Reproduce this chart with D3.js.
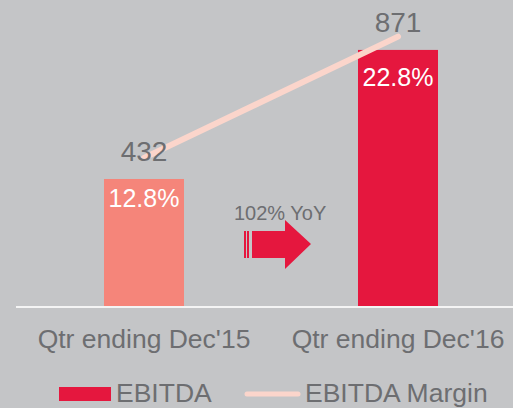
<!DOCTYPE html>
<html>
<head>
<meta charset="utf-8">
<script src="https://cdn.jsdelivr.net/npm/d3@7"></script>
<style>
  html, body { margin: 0; padding: 0; background: #c4c5c7; }
  svg { display: block; font-family: "Liberation Sans", Arial, sans-serif; }
</style>
</head>
<body>
<div id="chart"></div>
<script>
// chart data
var categories = ["Qtr ending Dec'15", "Qtr ending Dec'16"];
var ebitda = [432, 871];
var margin = [12.8, 22.8];
var barColors = ["#f5857a", "#e5173e"];
var yoyLabel = "102% YoY";
var legendLabels = ["EBITDA", "EBITDA Margin"];

var width = 513, height = 408;
var baseY = 306;
var textGray = "#6d6e71";

var svg = d3.select("#chart").append("svg")
  .attr("width", width).attr("height", height);

var x = d3.scaleBand().domain(categories).range([17, 525])
  .paddingInner(0.685).paddingOuter(0.3425);
var y = d3.scaleLinear().domain([0, 1000]).range([baseY, 12]);
var y2 = d3.scaleLinear().domain([0, 25]).range([313, 10]);

// bars
svg.selectAll(".bar").data(ebitda).enter().append("rect")
  .attr("class", "bar")
  .attr("x", function(d, i) { return x(categories[i]); })
  .attr("y", function(d) { return y(d); })
  .attr("width", x.bandwidth())
  .attr("height", function(d) { return baseY - y(d); })
  .style("fill", function(d, i) { return barColors[i]; });

// x axis
var xAxis = svg.append("g").attr("transform", "translate(0," + (baseY + 1) + ")")
  .call(d3.axisBottom(x).tickSize(0).tickPadding(0));
xAxis.select(".domain").remove();
xAxis.append("line").attr("x1", 16).attr("x2", width).attr("y1", 0).attr("y2", 0)
  .style("stroke", "#f4f4f4").style("stroke-width", 2);
xAxis.selectAll("text")
  .attr("dy", null).attr("y", 41)
  .style("font-size", "26.5px").style("fill", textGray)
  .style("font-family", "'Liberation Sans', Arial, sans-serif");

// margin line
var line = d3.line()
  .x(function(d, i) { return x(categories[i]) + x.bandwidth() / 2; })
  .y(function(d) { return y2(d); });
svg.append("path").datum(margin)
  .attr("d", line)
  .style("fill", "none").style("stroke", "#fbd5cb")
  .style("stroke-width", 6).style("stroke-linecap", "round");

// value labels
svg.selectAll(".val").data(ebitda).enter().append("text")
  .attr("x", function(d, i) { return x(categories[i]) + x.bandwidth() / 2; })
  .attr("y", function(d) { return y(d) - 18; })
  .attr("text-anchor", "middle")
  .style("font-size", "28px").style("fill", textGray)
  .text(function(d) { return d; });

svg.selectAll(".pct").data(margin).enter().append("text")
  .attr("x", function(d, i) { return x(categories[i]) + x.bandwidth() / 2; })
  .attr("y", function(d) { return y2(d) + 49; })
  .attr("text-anchor", "middle")
  .style("font-size", "25px").style("fill", "#ffffff")
  .text(function(d) { return d.toFixed(1) + "%"; });

// yoy arrow
var mid = (x(categories[0]) + x(categories[1]) + x.bandwidth()) / 2;
var ax = mid - 27, ay = 244;
var arrow = svg.append("g").attr("transform", "translate(" + ax + "," + ay + ")");
arrow.append("path")
  .attr("d", "M8,-13 L41,-13 L41,-24 L67,0 L41,25 L41,14 L8,14 Z")
  .style("fill", "#e5173e");
[0, 3].forEach(function(o) {
  arrow.append("rect").attr("x", o).attr("y", -13).attr("width", 2).attr("height", 27)
    .style("fill", "#e5173e");
});
svg.append("text").attr("x", ax - 10).attr("y", 220)
  .style("font-size", "20px").style("fill", textGray)
  .text(yoyLabel);

// legend
var leg = svg.append("g");
leg.append("rect").attr("x", 59).attr("y", 387).attr("width", 52).attr("height", 14)
  .style("fill", barColors[1]);
leg.append("text").attr("x", 116).attr("y", 402)
  .style("font-size", "26.5px").style("fill", textGray).text(legendLabels[0]);
leg.append("line").attr("x1", 247).attr("x2", 298).attr("y1", 394).attr("y2", 394)
  .style("stroke", "#fbd5cb").style("stroke-width", 5).style("stroke-linecap", "round");
leg.append("text").attr("x", 305).attr("y", 402)
  .style("font-size", "26.5px").style("fill", textGray).text(legendLabels[1]);
</script>
</body>
</html>
